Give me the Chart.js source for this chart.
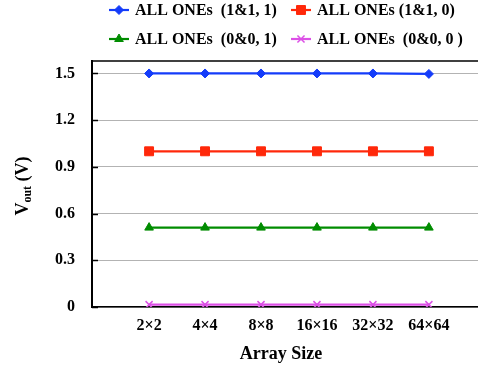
<!DOCTYPE html>
<html>
<head>
<meta charset="utf-8">
<script src="https://cdn.jsdelivr.net/npm/chart.js@4.4.1/dist/chart.umd.min.js"></script>
<style>
html,body{margin:0;padding:0;background:#fff;overflow:hidden;width:478px;height:370px;}
canvas{display:block;}
</style>
</head>
<body>
<canvas id="c" width="486" height="370"></canvas>
<script>
const categories = ['2×2', '4×4', '8×8', '16×16', '32×32', '64×64'];
const seriesNames = ['ALL ONEs  (1&1, 1)', 'ALL ONEs (1&1, 0)', 'ALL ONEs  (0&0, 1)', 'ALL ONEs  (0&0, 0 )'];
const s11_1 = [1.5, 1.5, 1.5, 1.5, 1.5, 1.497];
const s11_0 = [1.0, 1.0, 1.0, 1.0, 1.0, 1.0];
const s00_1 = [0.51, 0.51, 0.51, 0.51, 0.51, 0.51];
const s00_0 = [0.015, 0.015, 0.015, 0.015, 0.015, 0.015];
const yTicks = [0, 0.3, 0.6, 0.9, 1.2, 1.5];
const yTickLabels = ['0', '0.3', '0.6', '0.9', '1.2', '1.5'];

const FONT = '"Liberation Serif", "Times New Roman", serif';
const colors = ['rgb(20,60,250)', 'rgb(255,40,10)', 'rgb(0,140,0)', 'rgb(220,80,230)'];
const styles = [
  {pointStyle: 'rectRot', radius: 4.5, bw: 1},
  {pointStyle: 'rect', radius: 6.3, bw: 1},
  {pointStyle: 'triangle', radius: 5, bw: 1},
  {pointStyle: 'crossRot', radius: 5, bw: 1.5}
];
const allSeries = [s11_1, s11_0, s00_1, s00_0];

function toPts(arr) { return arr.map((v, i) => ({x: i + 1, y: v})); }

const datasets = allSeries.map((s, k) => ({
  label: seriesNames[k],
  data: toPts(s),
  borderColor: colors[k],
  backgroundColor: colors[k],
  pointBackgroundColor: colors[k],
  pointBorderColor: colors[k],
  pointStyle: styles[k].pointStyle,
  pointRadius: styles[k].radius,
  pointBorderWidth: styles[k].bw,
  borderWidth: 2.2,
  tension: 0
}));

const legendPos = [
  {x: 119, y: 10}, {x: 301, y: 10},
  {x: 119, y: 39}, {x: 301, y: 39}
];

const decor = {
  id: 'decor',
  afterDraw(chart) {
    const ctx = chart.ctx;
    const a = chart.chartArea;
    const ys = chart.scales.y;
    ctx.save();
    ctx.strokeStyle = '#000';
    ctx.lineWidth = 1.5;
    ctx.beginPath();
    ctx.moveTo(a.left, a.top);
    ctx.lineTo(a.right, a.top);
    ctx.stroke();
    ctx.lineWidth = 1.5;
    yTicks.forEach(v => {
      const py = Math.round(ys.getPixelForValue(v)) + 0.5;
      ctx.beginPath();
      ctx.moveTo(a.left, py);
      ctx.lineTo(a.left + 6, py);
      ctx.stroke();
    });
    ctx.font = 'bold 16px ' + FONT;
    ctx.textBaseline = 'middle';
    ctx.textAlign = 'left';
    legendPos.forEach((p, k) => {
      ctx.strokeStyle = colors[k];
      ctx.lineWidth = 2.2;
      ctx.beginPath();
      ctx.moveTo(p.x - 10, p.y);
      ctx.lineTo(p.x + 10, p.y);
      ctx.stroke();
      ctx.fillStyle = colors[k];
      ctx.strokeStyle = colors[k];
      ctx.lineWidth = styles[k].bw;
      Chart.helpers.drawPoint(ctx, {pointStyle: styles[k].pointStyle, radius: styles[k].radius, borderWidth: styles[k].bw, rotation: 0}, p.x, p.y);
      ctx.fillStyle = '#000';
      ctx.fillText(seriesNames[k], p.x + 16, p.y + 1);
    });
    ctx.font = 'bold 18px ' + FONT;
    ctx.textAlign = 'center';
    ctx.fillText('Array Size', 281, 354);
    ctx.translate(22, 186);
    ctx.rotate(-Math.PI / 2);
    const big = 'bold 18px ' + FONT, small = 'bold 12px ' + FONT;
    ctx.font = big; const wV = ctx.measureText('V').width; const wP = ctx.measureText(' (V)').width;
    ctx.font = small; const wO = ctx.measureText('out').width;
    let x0 = -(wV + wO + wP) / 2;
    ctx.textAlign = 'left';
    ctx.textBaseline = 'alphabetic';
    ctx.font = big; ctx.fillText('V', x0, 6);
    ctx.font = small; ctx.fillText('out', x0 + wV, 9);
    ctx.font = big; ctx.fillText(' (V)', x0 + wV + wO, 6);
    ctx.restore();
  }
};

new Chart(document.getElementById('c'), {
  type: 'line',
  data: {datasets},
  options: {
    responsive: false,
    animation: false,
    layout: {padding: {top: 61, left: 0, right: 0, bottom: 0}},
    plugins: {legend: {display: false}, tooltip: {enabled: false}},
    scales: {
      x: {
        type: 'linear',
        min: -0.02,
        max: 6.89,
        afterBuildTicks: s => { s.ticks = categories.map((c, i) => ({value: i + 1})); },
        afterFit: s => { s.height = 63; },
        grid: {display: false, drawTicks: false},
        border: {color: '#000', width: 1.5},
        ticks: {
          padding: 9,
          color: '#000',
          font: {family: FONT, size: 16, weight: 'bold'},
          maxRotation: 0,
          autoSkip: false,
          callback: (v, i) => categories[i]
        }
      },
      y: {
        min: 0,
        max: 1.58,
        afterBuildTicks: s => { s.ticks = yTicks.map(v => ({value: v})); },
        afterFit: s => { s.width = 92; },
        grid: {color: '#b3b3b3', lineWidth: 1, drawTicks: false},
        border: {color: '#000', width: 2},
        ticks: {
          padding: 17,
          color: '#000',
          font: {family: FONT, size: 16, weight: 'bold'},
          callback: (v, i) => yTickLabels[i]
        }
      }
    }
  },
  plugins: [decor]
});
</script>
</body>
</html>
